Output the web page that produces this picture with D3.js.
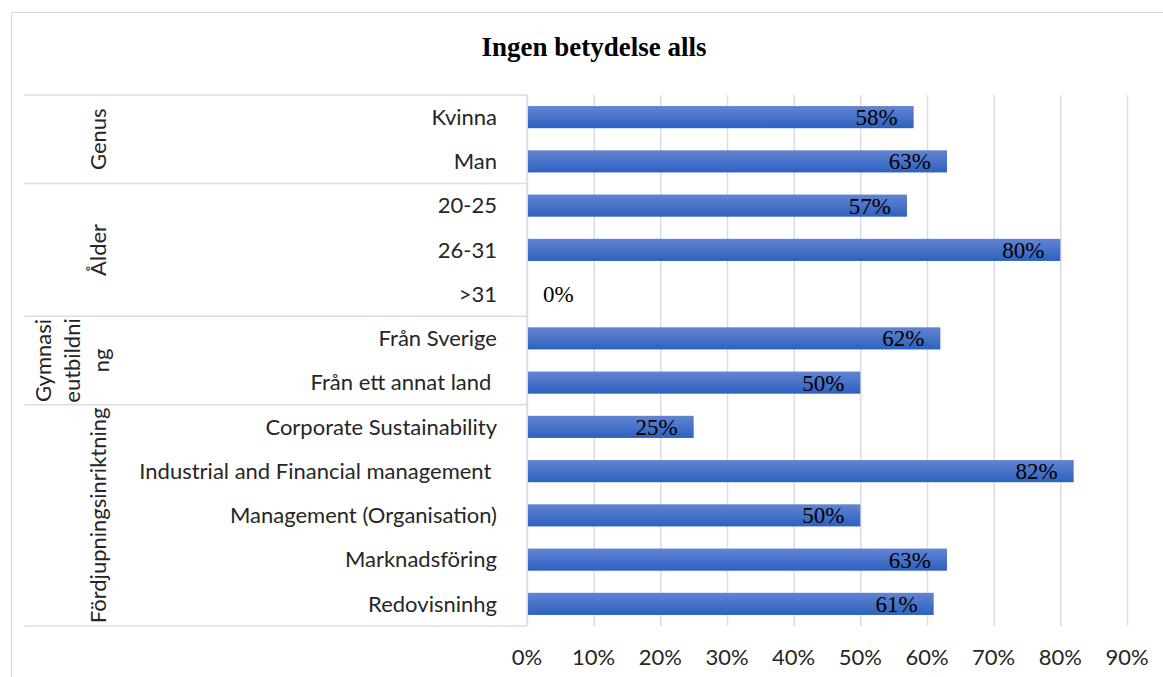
<!DOCTYPE html>
<html>
<head>
<meta charset="utf-8">
<script src="https://cdn.jsdelivr.net/npm/d3@7"></script>
<style>
  body { margin: 0; background: #fff; }
  svg { display: block; }
</style>
</head>
<body>
<div id="chart"></div>
<script>
// data
var categories = ["Kvinna", "Man", "20-25", "26-31", ">31", "Från Sverige", "Från ett annat land ",
    "Corporate Sustainability", "Industrial and Financial management ", "Management (Organisation)",
    "Marknadsföring", "Redovisninhg"];
var values = [0.58, 0.63, 0.57, 0.80, 0, 0.62, 0.50, 0.25, 0.82, 0.50, 0.63, 0.61];
var groupNames = [["Genus"], ["Ålder"], ["Gymnasi", "eutbildni", "ng"], ["Fördjupningsinriktning"]];
var groupSizes = [2, 3, 2, 5];
var xTicks = [0, 0.1, 0.2, 0.3, 0.4, 0.5, 0.6, 0.7, 0.8, 0.9];
var title = "Ingen betydelse alls";

var W = 1163, H = 677;
var svg = d3.select("#chart").append("svg")
    .attr("width", W)
    .attr("height", H);

var sans = "Lato, 'Open Sans', sans-serif",
    serif = "'Liberation Serif', 'Times New Roman', serif";

// bar gradient
var grad = svg.append("defs").append("linearGradient")
    .attr("id", "barGrad")
    .attr("x1", 0).attr("y1", 0).attr("x2", 0).attr("y2", 1);
grad.append("stop").attr("offset", "0%").attr("stop-color", "#6384d2");
grad.append("stop").attr("offset", "100%").attr("stop-color", "#2d61bf");

// chart frame (top and left visible)
svg.append("path")
    .attr("d", "M11.5," + H + "V12.5H" + W)
    .attr("fill", "none")
    .attr("stroke", "#d9d9d9");

var x = d3.scaleLinear().domain([0, 0.9]).range([527, 1127]),
    y = d3.scaleBand().domain(categories).range([95, 626]).paddingInner(0.5).paddingOuter(0.25);

var step = y.step(), top0 = y.range()[0], bot0 = y.range()[1];

// gridlines
svg.append("g")
    .attr("transform", "translate(0," + bot0 + ")")
    .call(d3.axisBottom(x).tickValues(xTicks).tickSize(-(bot0 - top0)).tickFormat(""))
    .call(function(g) { g.select(".domain").remove(); })
    .call(function(g) { g.selectAll("line").attr("stroke", "#d9dde4").attr("stroke-width", 1.5); });

// x tick labels
svg.append("g")
    .selectAll("text")
    .data(xTicks)
    .enter().append("text")
    .attr("x", function(d) { return x(d); })
    .attr("y", 665)
    .attr("text-anchor", "middle")
    .style("font", "22px " + sans)
    .attr("fill", "#262626")
    .text(d3.format(".0%"));

// category axis lines: vertical axis + group separators
svg.append("line")
    .attr("x1", x(0)).attr("x2", x(0))
    .attr("y1", top0).attr("y2", bot0)
    .attr("stroke", "#d9dde4").attr("stroke-width", 1.5);

var bounds = [0];
groupSizes.forEach(function(n, i) { bounds.push(bounds[i] + n); });

svg.append("g")
    .selectAll("line")
    .data(bounds)
    .enter().append("line")
    .attr("x1", 24).attr("x2", x(0))
    .attr("y1", function(d) { return top0 + d * step; })
    .attr("y2", function(d) { return top0 + d * step; })
    .attr("stroke", "#d9dde4").attr("stroke-width", 1.5);

// group labels (rotated)
var gl = svg.append("g")
    .selectAll("text")
    .data(groupNames)
    .enter().append("text")
    .attr("transform", function(d, i) {
        var cy = top0 + (bounds[i] + bounds[i + 1]) / 2 * step;
        var cx = d.length > 1 ? 72 : 98;
        return "translate(" + cx + "," + cy + ") rotate(-90)";
    })
    .attr("text-anchor", "middle")
    .style("font", "22px " + sans)
    .attr("fill", "#262626");

gl.selectAll("tspan")
    .data(function(d) { return d.map(function(t, j) { return {t: t, j: j, n: d.length}; }); })
    .enter().append("tspan")
    .attr("x", 0)
    .attr("y", function(d) { return (d.j - (d.n - 1) / 2) * 29; })
    .attr("dy", "0.35em")
    .text(function(d) { return d.t; });

// category labels
svg.append("g")
    .selectAll("text")
    .data(categories)
    .enter().append("text")
    .attr("x", 497)
    .attr("y", function(d) { return y(d) + y.bandwidth() / 2; })
    .attr("dy", "0.35em")
    .attr("text-anchor", "end")
    .attr("xml:space", "preserve")
    .style("white-space", "pre")
    .style("font", "22px " + sans)
    .attr("fill", "#262626")
    .text(function(d) { return d; });

// bars
svg.append("g")
    .selectAll("rect")
    .data(values)
    .enter().append("rect")
    .attr("x", x(0) + 1)
    .attr("y", function(d, i) { return y(categories[i]); })
    .attr("width", function(d) { return Math.max(0, x(d) - x(0) - 1); })
    .attr("height", y.bandwidth())
    .attr("fill", "url(#barGrad)");

// data labels (inside end)
svg.append("g")
    .selectAll("text")
    .data(values)
    .enter().append("text")
    .attr("x", function(d) { return d > 0 ? x(d) - 16 : x(0) + 16; })
    .attr("y", function(d, i) { return y(categories[i]) + y.bandwidth() / 2; })
    .attr("dy", "0.35em")
    .attr("text-anchor", function(d) { return d > 0 ? "end" : "start"; })
    .style("font", "23px " + serif)
    .attr("fill", "#000")
    .text(d3.format(".0%"));

// title
svg.append("text")
    .attr("x", 594)
    .attr("y", 56)
    .attr("text-anchor", "middle")
    .style("font", "bold 27px " + serif)
    .attr("fill", "#000")
    .text(title);
</script>
</body>
</html>
